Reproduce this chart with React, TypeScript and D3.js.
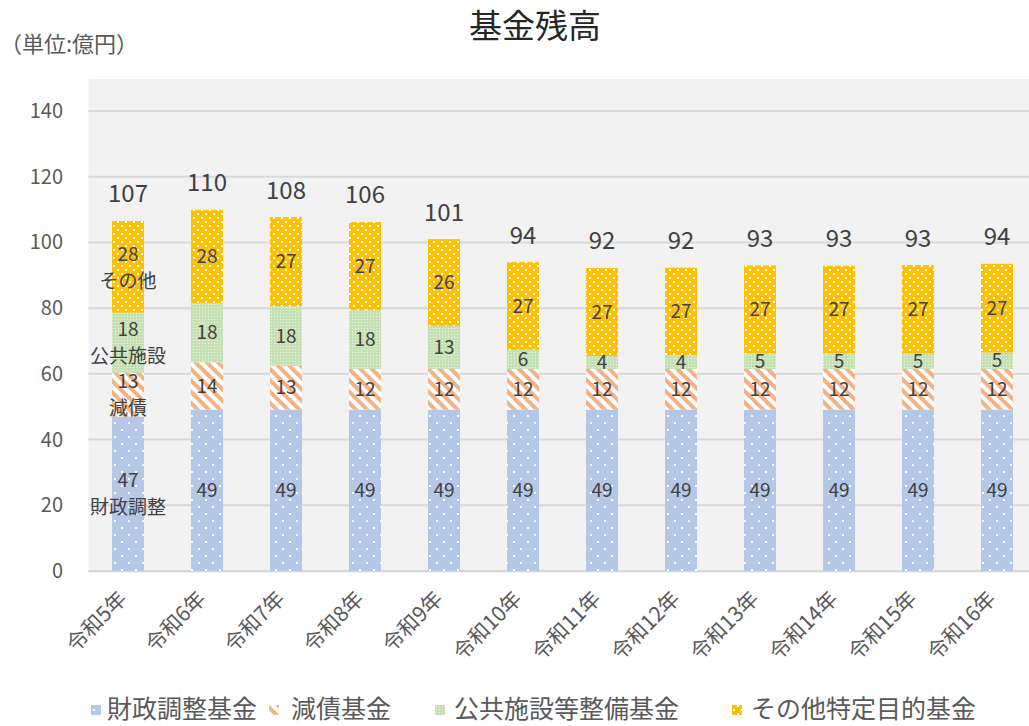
import React from 'react';
import * as d3 from 'd3';

const categories = ['令和5年', '令和6年', '令和7年', '令和8年', '令和9年', '令和10年', '令和11年', '令和12年', '令和13年', '令和14年', '令和15年', '令和16年'];
const zaiseiChosei = [47.0, 49.1, 49.1, 49.1, 49.1, 49.1, 49.1, 49.1, 49.1, 49.1, 49.1, 49.1];
const gensai = [13.3, 14.4, 13.3, 12.4, 12.4, 12.4, 12.4, 12.4, 12.4, 12.4, 12.4, 12.4];
const kokyoShisetsu = [18.3, 18.1, 18.2, 17.9, 13.1, 5.8, 3.9, 4.2, 4.7, 4.7, 4.8, 5.0];
const sonota = [27.9, 28.3, 27.1, 26.8, 26.4, 26.7, 26.8, 26.6, 26.8, 26.7, 26.8, 27.0];
const totals = [107, 110, 108, 106, 101, 94, 92, 92, 93, 93, 93, 94];
const yTicks = [0, 20, 40, 60, 80, 100, 120, 140];

const seriesKeys = ['zaisei', 'gensai', 'kokyo', 'sonota'];
const seriesNames = ['財政調整基金', '減債基金', '公共施設等整備基金', 'その他特定目的基金'];
const shortNames = ['財政調整', '減債', '公共施設', 'その他'];
const patternIds = ['pBlue', 'pOrange', 'pGreen', 'pYellow'];

const FONT = '"Noto Sans CJK JP", "Noto Sans", sans-serif';

export default function App() {
  const W = 1029, H = 726;
  const plotLeft = 88.5;
  const band = 79;
  const plotRight = plotLeft + band * categories.length;
  const yTop = 111, yBottom = 571;
  const bgTop = 79;

  const rows = categories.map((c, i) => ({
    cat: c,
    zaisei: zaiseiChosei[i],
    gensai: gensai[i],
    kokyo: kokyoShisetsu[i],
    sonota: sonota[i],
  }));
  const stacked = d3.stack<any>().keys(seriesKeys)(rows);

  const x = d3.scaleBand<string>().domain(categories).range([plotLeft, plotRight]).paddingInner(0.595).paddingOuter(0.2975);
  const y = d3.scaleLinear().domain([0, 140]).range([yBottom, yTop]);
  const bw = x.bandwidth();

  const legendMarkerX = [91, 269, 435, 732];
  const legendTextX = [107, 291, 454, 751];
  const legendY = 709;

  return (
    <svg width={W} height={H} style={{ position: 'absolute', left: 0, top: 0, background: '#fff' }} fontFamily={FONT}>
      <defs>
        <pattern id="pBlue" width="14" height="14" patternUnits="userSpaceOnUse">
          <rect width="14" height="14" fill="#b4c7e7" />
          <rect x="2" y="2" width="2" height="2" fill="#ffffff" />
          <rect x="9" y="9" width="2" height="2" fill="#ffffff" />
        </pattern>
        <pattern id="pOrange" width="8" height="8" patternUnits="userSpaceOnUse" patternTransform="rotate(-45)">
          <rect width="8" height="8" fill="#ffffff" />
          <rect width="4" height="8" fill="#f4b183" />
        </pattern>
        <pattern id="pGreen" width="3" height="3" patternUnits="userSpaceOnUse">
          <rect width="3" height="3" fill="#c5e0b4" />
          <rect x="1" y="1" width="1" height="1" fill="#ecf5e6" />
        </pattern>
        <pattern id="pYellow" width="8" height="8" patternUnits="userSpaceOnUse">
          <rect width="8" height="8" fill="#ffc000" />
          <rect x="1" y="1" width="2" height="2" fill="#ffffff" />
          <rect x="5" y="5" width="2" height="2" fill="#ffffff" />
        </pattern>
      </defs>

      {/* title & unit */}
      <text x={535} y={38} textAnchor="middle" fontSize={33} fill="#262626" fontWeight={400}>基金残高</text>
      <text x={0} y={44} dy="0.35em" fontSize={22} fill="#595959">（単位:億円）</text>

      {/* plot background */}
      <rect x={plotLeft} y={bgTop} width={W - plotLeft + 20} height={yBottom - bgTop + 2} fill="#f2f2f2" />

      {/* grid */}
      {yTicks.map((t) => (
        <line key={t} x1={plotLeft} x2={W + 20} y1={y(t)} y2={y(t)} stroke="#d9d9d9" strokeWidth={2} />
      ))}
      {yTicks.map((t) => (
        <text key={'yt' + t} x={63} y={y(t)} dy="0.35em" textAnchor="end" fontSize={20} fill="#595959">{t}</text>
      ))}

      {/* bars */}
      {stacked.map((s, si) => (
        <g key={s.key}>
          {s.map((d, i) => (
            <rect key={i} x={x(categories[i])} y={y(d[1])} width={bw} height={y(d[0]) - y(d[1])} fill={`url(#${patternIds[si]})`} />
          ))}
        </g>
      ))}

      {/* segment labels */}
      {stacked.map((s, si) => (
        <g key={'l' + s.key}>
          {s.map((d, i) => {
            const cx = (x(categories[i]) as number) + bw / 2;
            const cy = (y(d[0]) + y(d[1])) / 2;
            const v = Math.round(d[1] - d[0]);
            if (i === 0) {
              return (
                <g key={i}>
                  <text x={cx} y={cy - 13} dy="0.35em" textAnchor="middle" fontSize={19} fill="#404040">{v}</text>
                  <text x={cx} y={cy + 14} dy="0.35em" textAnchor="middle" fontSize={19} fill="#404040">{shortNames[si]}</text>
                </g>
              );
            }
            return (
              <text key={i} x={cx} y={cy} dy="0.35em" textAnchor="middle" fontSize={19} fill="#404040">{v}</text>
            );
          })}
        </g>
      ))}

      {/* totals */}
      {categories.map((c, i) => {
        const top = stacked[stacked.length - 1][i][1];
        return (
          <text key={'tot' + c} x={(x(c) as number) + bw / 2} y={y(top) - 27} dy="0.35em" textAnchor="middle" fontSize={24} fill="#404040">{totals[i]}</text>
        );
      })}

      {/* x labels */}
      {categories.map((c) => {
        const cx = (x(c) as number) + bw / 2;
        return (
          <text key={'xl' + c} transform={`translate(${cx - 5},${595}) rotate(-45)`} textAnchor="end" dy="0.35em" fontSize={21} fill="#595959">{c}</text>
        );
      })}

      {/* legend */}
      {seriesNames.map((n, i) => (
        <g key={'lg' + i}>
          <rect x={legendMarkerX[i]} y={legendY - 4} width={10} height={10} fill={`url(#${patternIds[i]})`} />
          <text x={legendTextX[i]} y={legendY} dy="0.35em" fontSize={25} fill="#595959">{n}</text>
        </g>
      ))}
    </svg>
  );
}
